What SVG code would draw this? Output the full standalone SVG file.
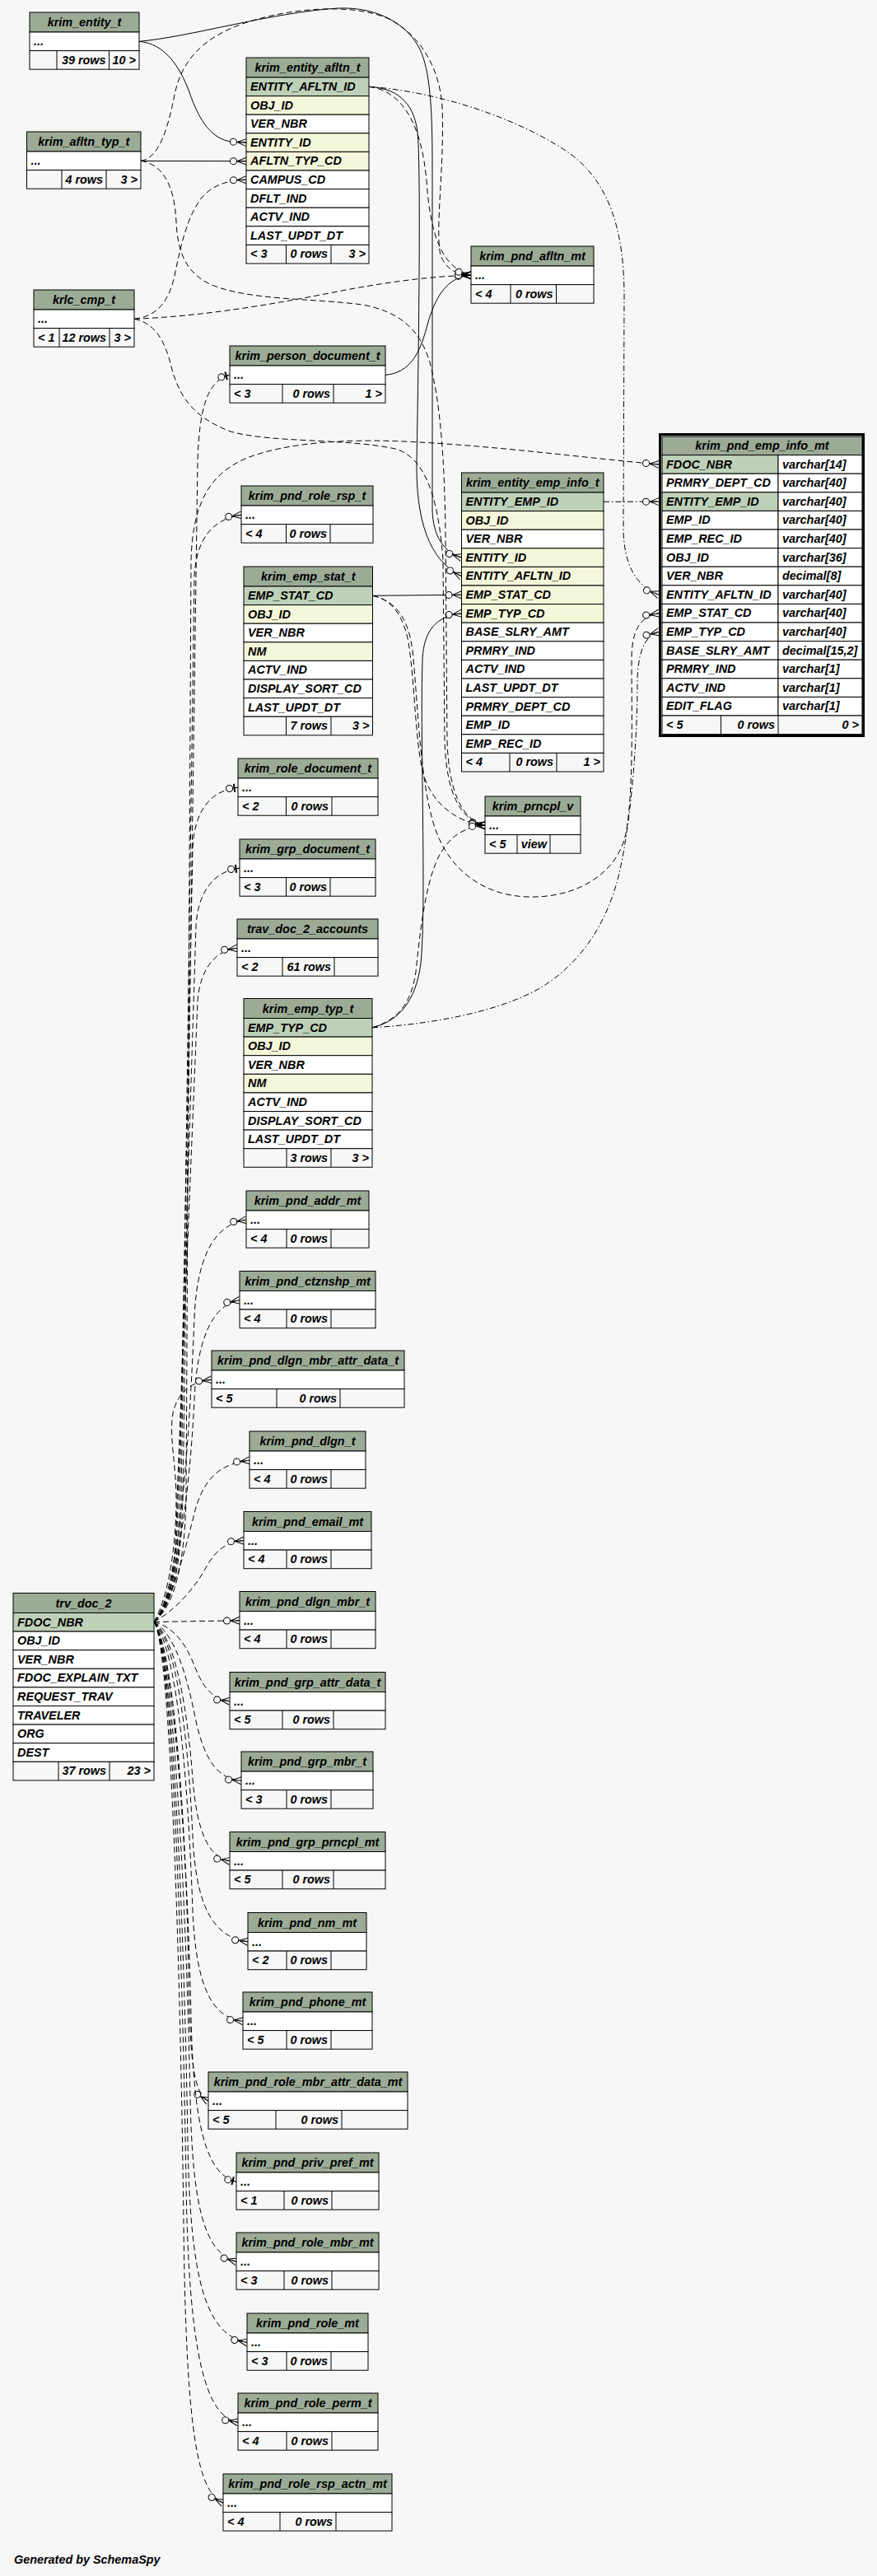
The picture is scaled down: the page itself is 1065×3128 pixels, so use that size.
<svg xmlns="http://www.w3.org/2000/svg" width="1065" height="3128" viewBox="0 0 1065 3128">
<style>
text{font-family:"Liberation Sans",Arial,sans-serif;font-weight:bold;font-style:italic;font-size:14.4px;fill:#000}
.m{text-anchor:middle}.e{text-anchor:end}
.h{fill:#9bab96;stroke:#000}.k{fill:#bed1b8;stroke:#000}.i{fill:#f4f7da;stroke:#000}.w{fill:#fff;stroke:#000}.f{fill:#f7f7f7;stroke:#000}
.v{stroke:#000;fill:none}
.s,.d,.dd{fill:none;stroke:#000;stroke-width:1}
.d{stroke-dasharray:7,4}.dd{stroke-dasharray:7,3,1.5,3}
.cf{marker-end:url(#cf)}.ot{marker-end:url(#ot)}
</style>
<defs>
<marker id="cf" markerUnits="userSpaceOnUse" orient="auto" markerWidth="40" markerHeight="20" viewBox="-25 -10 40 20" refX="0" refY="0" overflow="visible">
<g stroke="#000" stroke-width="1" stroke-dasharray="none"><path d="M-11,0L0,-4.5M-11,0L0,0M-11,0L0,4.5" fill="none"/><circle cx="-15.5" cy="0" r="4" fill="#f7f7f7"/></g>
</marker>
<marker id="ot" markerUnits="userSpaceOnUse" orient="auto" markerWidth="40" markerHeight="20" viewBox="-25 -10 40 20" refX="0" refY="0" overflow="visible">
<g stroke="#000" stroke-dasharray="none"><path d="M-6.5,0H0" stroke-width="1"/><circle cx="-10.5" cy="0" r="4" fill="#f7f7f7" stroke-width="1"/><path d="M-4.5,-5V5" stroke-width="2"/></g>
</marker>
</defs>
<rect x="0" y="0" width="1065" height="3128" fill="#f7f7f7"/>

<g id="connectors">
<path class="s cf" d="M169,50.3 C200,53 218,80 230,112 C243,150 258,168 280,172 L299,173.1"/>
<path class="s cf" d="M169,50.3 C230,45 330,15 410,10 C460,8 495,30 510,60 C522,85 525,130 525,200 L525,620 C526,650 538,670 560.5,677.1"/>
<path class="s cf" d="M171,195.5 L299,195.7"/>
<path class="s cf" d="M448,105.3 C480,107 502,122 507,160 C511,200 509,400 506,560 C505,630 520,680 560.5,699.7"/>
<path class="s cf" d="M468,455.3 C498,453 510,428 518,398 C528,360 543,336 572,334.3"/>
<path class="s cf" d="M452.5,723.3 L560.5,722.3"/>
<path class="s cf" d="M452,1247.8 C485,1240 505,1215 511,1170 C518,1100 510,900 513,800 C515,765 530,748 560.5,744.9"/>
<path class="d cf" d="M171,195.3 C195,192 205,150 212,115 C220,75 245,45 300,27 C360,8 430,5 470,22 C508,40 534,80 537,130 C540,200 528,280 535,310 C542,328 555,333 572,334.3"/>
<path class="d cf" d="M171,195.3 C198,200 212,225 214,270 C216,310 228,332 255,345 C300,365 380,362 440,370 C485,378 510,400 522,440 C535,490 540,560 541,650 L543,900 C545,960 560,995 589,1002.3"/>
<path class="d cf" d="M163,387.3 C192,384 205,365 212,335 C220,295 228,262 245,240 C258,225 275,219 299,218.3"/>
<path class="d cf" d="M163,387.3 C250,384 340,368 420,352 C480,341 530,335 572,334.3"/>
<path class="d cf" d="M163,387.3 C187,392 200,412 208,445 C218,485 238,508 280,524 C330,538 420,532 480,545 C515,555 532,600 538,680 L540,900 C542,965 560,996 589,1002.3"/>
<path class="d cf" d="M452.5,723.3 C482,730 496,752 501,790 C508,860 510,950 528,1005 C545,1055 585,1087 640,1089 C700,1091 745,1062 758,1020 C770,980 767,860 767,800 C767,765 778,748 800,744.7"/>
<path class="d cf" d="M452.5,723.3 C476,728 490,748 496,780 C504,830 504,900 514,940 C525,975 552,998 589,1002.3"/>
<path class="dd cf" d="M452,1247.8 C520,1244 600,1230 652,1202 C705,1172 738,1120 752,1060 C766,1000 774,900 774,830 C774,795 782,772 800,767.3"/>
<path class="d cf" d="M452,1247.8 C486,1238 500,1215 505,1180 C512,1110 520,1062 535,1036 C548,1014 565,1004 589,1002.3"/>
<path class="d cf" d="M448,105.3 C488,110 512,150 518,220 C523,290 538,325 572,334.3"/>
<path class="dd cf" d="M448,105.3 C520,110 620,138 690,185 C740,220 758,280 758,360 L757,640 C757,685 772,712 800,722.1"/>
<path class="dd cf" d="M733,609.3 L800,609.1"/>
<path class="d cf" d="M187,1969.5 C212,1950 224,1900 226,1820 L232,680 C234,610 255,575 300,556 C350,537 420,533 490,536 C600,541 710,556 800,563.9"/>
<path class="d ot" d="M187,1969.5 C210,1950 220,1900 222,1820 L240,560 C242,495 252,462 279,455.3"/>
<path class="d cf" d="M187,1969.5 C209,1950 219,1900 220,1820 L236,700 C238,655 258,630 293,625.3"/>
<path class="d ot" d="M187,1969.5 C208,1950 217,1900 218,1820 L234,1030 C236,985 255,960 289,956.3"/>
<path class="d ot" d="M187,1969.5 C207,1950 215,1900 216,1820 L238,1125 C240,1085 258,1058 291,1054.3"/>
<path class="d cf" d="M187,1969.5 C207,1950 214,1900 215,1820 L240,1215 C243,1180 258,1155 288,1151.3"/>
<path class="d cf" d="M187,1969.5 C213,1940 228,1800 236,1600 C239,1530 258,1487 299,1481.3"/>
<path class="d cf" d="M187,1969.5 C213,1940 230,1820 236,1700 C239,1630 256,1585 291,1578.8"/>
<path class="d cf" d="M187,1969.5 C204,1940 214,1880 214,1820 C214,1780 205,1742 210,1716 C216,1690 232,1678 257,1675.3"/>
<path class="d cf" d="M187,1969.5 C210,1945 225,1880 238,1830 C250,1792 270,1777 303,1773.3"/>
<path class="d cf" d="M187,1969.5 C214,1955 238,1926 251,1902 C262,1882 276,1872 296,1870.8"/>
<path class="d cf" d="M187,1969.5 L291,1967.8"/>
<path class="d cf" d="M187,1969.5 C210,1975 225,1995 235,2020 C245,2046 256,2063 279,2065.8"/>
<path class="d cf" d="M187,1969.5 C214,1985 228,2040 238,2090 C249,2140 266,2160 293,2162.3"/>
<path class="d cf" d="M187,1969.5 C214,1990 228,2080 234,2160 C239,2222 252,2255 279,2259.8"/>
<path class="d cf" d="M187,1969.5 C214,1995 228,2100 234,2230 C238,2310 256,2352 301,2357.8"/>
<path class="d cf" d="M187,1969.5 C214,2000 228,2150 234,2320 C238,2410 256,2450 295,2454.3"/>
<path class="d cf" d="M187,1969.5 C210,2000 226,2200 229,2400 C231,2500 234,2540 253,2551.3"/>
<path class="d ot" d="M187,1969.5 C210,2000 228,2250 232,2450 C235,2580 250,2640 287,2649.3"/>
<path class="d cf" d="M187,1969.5 C210,2000 226,2300 231,2550 C234,2680 248,2735 287,2746.3"/>
<path class="d cf" d="M187,1969.5 C210,2000 224,2350 228,2600 C231,2770 250,2835 300,2844.3"/>
<path class="d cf" d="M187,1969.5 C210,2000 222,2400 226,2650 C229,2860 250,2935 289,2941.3"/>
<path class="d cf" d="M187,1969.5 C209,2000 220,2450 223,2700 C226,2970 242,3025 271,3039.3"/>
</g>

<g id="krim_entity_t">
<rect class="h" x="36" y="15" width="133" height="24"/><rect class="w" x="36" y="39" width="133" height="22.6"/><rect class="f" x="36" y="61.6" width="133" height="22.6"/>
<path class="v" d="M69,61.6V84.2M132.5,61.6V84.2"/>
<text class="m" x="102.5" y="32">krim_entity_t</text><text x="41" y="55">...</text>
<text class="e" x="128.5" y="77.6">39 rows</text><text class="e" x="165" y="77.6">10 &gt;</text>
</g>

<g id="krim_entity_afltn_t">
<rect class="h" x="299" y="70" width="149" height="24"/>
<rect class="k" x="299" y="94" width="149" height="22.6"/>
<rect class="i" x="299" y="116.6" width="149" height="22.6"/>
<rect class="w" x="299" y="139.2" width="149" height="22.6"/>
<rect class="i" x="299" y="161.8" width="149" height="22.6"/>
<rect class="i" x="299" y="184.4" width="149" height="22.6"/>
<rect class="w" x="299" y="207" width="149" height="22.6"/>
<rect class="w" x="299" y="229.6" width="149" height="22.6"/>
<rect class="w" x="299" y="252.2" width="149" height="22.6"/>
<rect class="w" x="299" y="274.8" width="149" height="22.6"/>
<rect class="f" x="299" y="297.4" width="149" height="22.6"/>
<path class="v" d="M347.5,297.4V320M402,297.4V320"/>
<text class="m" x="373.5" y="87">krim_entity_afltn_t</text>
<text x="304" y="110">ENTITY_AFLTN_ID</text><text x="304" y="132.6">OBJ_ID</text><text x="304" y="155.2">VER_NBR</text>
<text x="304" y="177.8">ENTITY_ID</text><text x="304" y="200.4">AFLTN_TYP_CD</text><text x="304" y="223">CAMPUS_CD</text>
<text x="304" y="245.6">DFLT_IND</text><text x="304" y="268.2">ACTV_IND</text><text x="304" y="290.8">LAST_UPDT_DT</text>
<text x="304" y="313.4">&lt; 3</text><text class="e" x="398" y="313.4">0 rows</text><text class="e" x="444" y="313.4">3 &gt;</text>
</g>

<g id="krim_afltn_typ_t">
<rect class="h" x="32.5" y="160" width="138.5" height="24"/><rect class="w" x="32.5" y="184" width="138.5" height="22.6"/><rect class="f" x="32.5" y="206.6" width="138.5" height="22.6"/>
<path class="v" d="M75,206.6V229.2M129,206.6V229.2"/>
<text class="m" x="101.75" y="177">krim_afltn_typ_t</text><text x="37.5" y="200">...</text>
<text class="e" x="125" y="222.6">4 rows</text><text class="e" x="167" y="222.6">3 &gt;</text>
</g>

<g id="krlc_cmp_t">
<rect class="h" x="41" y="352" width="122" height="24"/><rect class="w" x="41" y="376" width="122" height="22.6"/><rect class="f" x="41" y="398.6" width="122" height="22.6"/>
<path class="v" d="M72,398.6V421.2M133,398.6V421.2"/>
<text class="m" x="102" y="369">krlc_cmp_t</text><text x="46" y="392">...</text>
<text x="46" y="414.6">&lt; 1</text><text class="e" x="129" y="414.6">12 rows</text><text class="e" x="159" y="414.6">3 &gt;</text>
</g>

<g id="krim_person_document_t">
<rect class="h" x="279" y="420" width="189" height="24"/><rect class="w" x="279" y="444" width="189" height="22.6"/><rect class="f" x="279" y="466.6" width="189" height="22.6"/>
<path class="v" d="M343,466.6V489.2M405,466.6V489.2"/>
<text class="m" x="373.5" y="437">krim_person_document_t</text><text x="284" y="460">...</text>
<text x="284" y="482.6">&lt; 3</text><text class="e" x="401" y="482.6">0 rows</text><text class="e" x="464" y="482.6">1 &gt;</text>
</g>

<g id="krim_pnd_role_rsp_t">
<rect class="h" x="293" y="590" width="160" height="24"/><rect class="w" x="293" y="614" width="160" height="22.6"/><rect class="f" x="293" y="636.6" width="160" height="22.6"/>
<path class="v" d="M347.5,636.6V659.2M401,636.6V659.2"/>
<text class="m" x="373" y="607">krim_pnd_role_rsp_t</text><text x="298" y="630">...</text>
<text x="298" y="652.6">&lt; 4</text><text class="e" x="397" y="652.6">0 rows</text>
</g>

<g id="krim_emp_stat_t">
<rect class="h" x="296" y="688" width="156.5" height="24"/>
<rect class="k" x="296" y="712" width="156.5" height="22.6"/>
<rect class="i" x="296" y="734.6" width="156.5" height="22.6"/>
<rect class="w" x="296" y="757.2" width="156.5" height="22.6"/>
<rect class="i" x="296" y="779.8" width="156.5" height="22.6"/>
<rect class="w" x="296" y="802.4" width="156.5" height="22.6"/>
<rect class="w" x="296" y="825" width="156.5" height="22.6"/>
<rect class="w" x="296" y="847.6" width="156.5" height="22.6"/>
<rect class="f" x="296" y="870.2" width="156.5" height="22.6"/>
<path class="v" d="M347.5,870.2V892.8M402,870.2V892.8"/>
<text class="m" x="374.25" y="705">krim_emp_stat_t</text>
<text x="301" y="728">EMP_STAT_CD</text><text x="301" y="750.6">OBJ_ID</text><text x="301" y="773.2">VER_NBR</text><text x="301" y="795.8">NM</text>
<text x="301" y="818.4">ACTV_IND</text><text x="301" y="841">DISPLAY_SORT_CD</text><text x="301" y="863.6">LAST_UPDT_DT</text>
<text class="e" x="398" y="886.2">7 rows</text><text class="e" x="448.5" y="886.2">3 &gt;</text>
</g>

<g id="krim_role_document_t">
<rect class="h" x="289" y="921" width="170" height="24"/><rect class="w" x="289" y="945" width="170" height="22.6"/><rect class="f" x="289" y="967.6" width="170" height="22.6"/>
<path class="v" d="M347.5,967.6V990.2M403,967.6V990.2"/>
<text class="m" x="374" y="938">krim_role_document_t</text><text x="294" y="961">...</text>
<text x="294" y="983.6">&lt; 2</text><text class="e" x="399" y="983.6">0 rows</text>
</g>

<g id="krim_grp_document_t">
<rect class="h" x="291" y="1019" width="165" height="24"/><rect class="w" x="291" y="1043" width="165" height="22.6"/><rect class="f" x="291" y="1065.6" width="165" height="22.6"/>
<path class="v" d="M347.5,1065.6V1088.2M401,1065.6V1088.2"/>
<text class="m" x="373.5" y="1036">krim_grp_document_t</text><text x="296" y="1059">...</text>
<text x="296" y="1081.6">&lt; 3</text><text class="e" x="397" y="1081.6">0 rows</text>
</g>

<g id="trav_doc_2_accounts">
<rect class="h" x="288" y="1116" width="171" height="24"/><rect class="w" x="288" y="1140" width="171" height="22.6"/><rect class="f" x="288" y="1162.6" width="171" height="22.6"/>
<path class="v" d="M343,1162.6V1185.2M406,1162.6V1185.2"/>
<text class="m" x="373.5" y="1133">trav_doc_2_accounts</text><text x="293" y="1156">...</text>
<text x="293" y="1178.6">&lt; 2</text><text class="e" x="402" y="1178.6">61 rows</text>
</g>

<g id="krim_emp_typ_t">
<rect class="h" x="296" y="1212.5" width="156" height="24"/>
<rect class="k" x="296" y="1236.5" width="156" height="22.6"/>
<rect class="i" x="296" y="1259.1" width="156" height="22.6"/>
<rect class="w" x="296" y="1281.7" width="156" height="22.6"/>
<rect class="i" x="296" y="1304.3" width="156" height="22.6"/>
<rect class="w" x="296" y="1326.9" width="156" height="22.6"/>
<rect class="w" x="296" y="1349.5" width="156" height="22.6"/>
<rect class="w" x="296" y="1372.1" width="156" height="22.6"/>
<rect class="f" x="296" y="1394.7" width="156" height="22.6"/>
<path class="v" d="M348,1394.7V1417.3M402,1394.7V1417.3"/>
<text class="m" x="374" y="1229.5">krim_emp_typ_t</text>
<text x="301" y="1252.5">EMP_TYP_CD</text><text x="301" y="1275.1">OBJ_ID</text><text x="301" y="1297.7">VER_NBR</text><text x="301" y="1320.3">NM</text>
<text x="301" y="1342.9">ACTV_IND</text><text x="301" y="1365.5">DISPLAY_SORT_CD</text><text x="301" y="1388.1">LAST_UPDT_DT</text>
<text class="e" x="398" y="1410.7">3 rows</text><text class="e" x="448" y="1410.7">3 &gt;</text>
</g>

<g id="krim_pnd_addr_mt">
<rect class="h" x="299" y="1446" width="149" height="24"/><rect class="w" x="299" y="1470" width="149" height="22.6"/><rect class="f" x="299" y="1492.6" width="149" height="22.6"/>
<path class="v" d="M348,1492.6V1515.2M402,1492.6V1515.2"/>
<text class="m" x="373.5" y="1463">krim_pnd_addr_mt</text><text x="304" y="1486">...</text>
<text x="304" y="1508.6">&lt; 4</text><text class="e" x="398" y="1508.6">0 rows</text>
</g>

<g id="krim_pnd_ctznshp_mt">
<rect class="h" x="291" y="1543.5" width="165" height="24"/><rect class="w" x="291" y="1567.5" width="165" height="22.6"/><rect class="f" x="291" y="1590.1" width="165" height="22.6"/>
<path class="v" d="M348,1590.1V1612.7M402,1590.1V1612.7"/>
<text class="m" x="373.5" y="1560.5">krim_pnd_ctznshp_mt</text><text x="296" y="1583.5">...</text>
<text x="296" y="1606.1">&lt; 4</text><text class="e" x="398" y="1606.1">0 rows</text>
</g>

<g id="krim_pnd_dlgn_mbr_attr_data_t">
<rect class="h" x="257" y="1640" width="234" height="24"/><rect class="w" x="257" y="1664" width="234" height="22.6"/><rect class="f" x="257" y="1686.6" width="234" height="22.6"/>
<path class="v" d="M336,1686.6V1709.2M413,1686.6V1709.2"/>
<text class="m" x="374" y="1657">krim_pnd_dlgn_mbr_attr_data_t</text><text x="262" y="1680">...</text>
<text x="262" y="1702.6">&lt; 5</text><text class="e" x="409" y="1702.6">0 rows</text>
</g>

<g id="krim_pnd_dlgn_t">
<rect class="h" x="303" y="1738" width="141" height="24"/><rect class="w" x="303" y="1762" width="141" height="22.6"/><rect class="f" x="303" y="1784.6" width="141" height="22.6"/>
<path class="v" d="M348,1784.6V1807.2M402,1784.6V1807.2"/>
<text class="m" x="373.5" y="1755">krim_pnd_dlgn_t</text><text x="308" y="1778">...</text>
<text x="308" y="1800.6">&lt; 4</text><text class="e" x="398" y="1800.6">0 rows</text>
</g>

<g id="krim_pnd_email_mt">
<rect class="h" x="296" y="1835.5" width="155" height="24"/><rect class="w" x="296" y="1859.5" width="155" height="22.6"/><rect class="f" x="296" y="1882.1" width="155" height="22.6"/>
<path class="v" d="M348,1882.1V1904.7M402,1882.1V1904.7"/>
<text class="m" x="373.5" y="1852.5">krim_pnd_email_mt</text><text x="301" y="1875.5">...</text>
<text x="301" y="1898.1">&lt; 4</text><text class="e" x="398" y="1898.1">0 rows</text>
</g>

<g id="krim_pnd_dlgn_mbr_t">
<rect class="h" x="291" y="1932.5" width="165" height="24"/><rect class="w" x="291" y="1956.5" width="165" height="22.6"/><rect class="f" x="291" y="1979.1" width="165" height="22.6"/>
<path class="v" d="M348,1979.1V2001.7M402,1979.1V2001.7"/>
<text class="m" x="373.5" y="1949.5">krim_pnd_dlgn_mbr_t</text><text x="296" y="1972.5">...</text>
<text x="296" y="1995.1">&lt; 4</text><text class="e" x="398" y="1995.1">0 rows</text>
</g>

<g id="krim_pnd_grp_attr_data_t">
<rect class="h" x="279" y="2030.5" width="189" height="24"/><rect class="w" x="279" y="2054.5" width="189" height="22.6"/><rect class="f" x="279" y="2077.1" width="189" height="22.6"/>
<path class="v" d="M343,2077.1V2099.7M405,2077.1V2099.7"/>
<text class="m" x="373.5" y="2047.5">krim_pnd_grp_attr_data_t</text><text x="284" y="2070.5">...</text>
<text x="284" y="2093.1">&lt; 5</text><text class="e" x="401" y="2093.1">0 rows</text>
</g>

<g id="krim_pnd_grp_mbr_t">
<rect class="h" x="293" y="2127" width="160" height="24"/><rect class="w" x="293" y="2151" width="160" height="22.6"/><rect class="f" x="293" y="2173.6" width="160" height="22.6"/>
<path class="v" d="M348,2173.6V2196.2M402,2173.6V2196.2"/>
<text class="m" x="373" y="2144">krim_pnd_grp_mbr_t</text><text x="298" y="2167">...</text>
<text x="298" y="2189.6">&lt; 3</text><text class="e" x="398" y="2189.6">0 rows</text>
</g>

<g id="krim_pnd_grp_prncpl_mt">
<rect class="h" x="279" y="2224.5" width="189" height="24"/><rect class="w" x="279" y="2248.5" width="189" height="22.6"/><rect class="f" x="279" y="2271.1" width="189" height="22.6"/>
<path class="v" d="M343,2271.1V2293.7M405,2271.1V2293.7"/>
<text class="m" x="373.5" y="2241.5">krim_pnd_grp_prncpl_mt</text><text x="284" y="2264.5">...</text>
<text x="284" y="2287.1">&lt; 5</text><text class="e" x="401" y="2287.1">0 rows</text>
</g>

<g id="krim_pnd_nm_mt">
<rect class="h" x="301" y="2322.5" width="144" height="24"/><rect class="w" x="301" y="2346.5" width="144" height="22.6"/><rect class="f" x="301" y="2369.1" width="144" height="22.6"/>
<path class="v" d="M348,2369.1V2391.7M402,2369.1V2391.7"/>
<text class="m" x="373" y="2339.5">krim_pnd_nm_mt</text><text x="306" y="2362.5">...</text>
<text x="306" y="2385.1">&lt; 2</text><text class="e" x="398" y="2385.1">0 rows</text>
</g>

<g id="krim_pnd_phone_mt">
<rect class="h" x="295" y="2419" width="157" height="24"/><rect class="w" x="295" y="2443" width="157" height="22.6"/><rect class="f" x="295" y="2465.6" width="157" height="22.6"/>
<path class="v" d="M348,2465.6V2488.2M402,2465.6V2488.2"/>
<text class="m" x="373.5" y="2436">krim_pnd_phone_mt</text><text x="300" y="2459">...</text>
<text x="300" y="2481.6">&lt; 5</text><text class="e" x="398" y="2481.6">0 rows</text>
</g>

<g id="krim_pnd_role_mbr_attr_data_mt">
<rect class="h" x="253" y="2516" width="242" height="24"/><rect class="w" x="253" y="2540" width="242" height="22.6"/><rect class="f" x="253" y="2562.6" width="242" height="22.6"/>
<path class="v" d="M335,2562.6V2585.2M415,2562.6V2585.2"/>
<text class="m" x="374" y="2533">krim_pnd_role_mbr_attr_data_mt</text><text x="258" y="2556">...</text>
<text x="258" y="2578.6">&lt; 5</text><text class="e" x="411" y="2578.6">0 rows</text>
</g>

<g id="krim_pnd_priv_pref_mt">
<rect class="h" x="287" y="2614" width="173" height="24"/><rect class="w" x="287" y="2638" width="173" height="22.6"/><rect class="f" x="287" y="2660.6" width="173" height="22.6"/>
<path class="v" d="M345,2660.6V2683.2M403,2660.6V2683.2"/>
<text class="m" x="373.5" y="2631">krim_pnd_priv_pref_mt</text><text x="292" y="2654">...</text>
<text x="292" y="2676.6">&lt; 1</text><text class="e" x="399" y="2676.6">0 rows</text>
</g>

<g id="krim_pnd_role_mbr_mt">
<rect class="h" x="287" y="2711" width="173" height="24"/><rect class="w" x="287" y="2735" width="173" height="22.6"/><rect class="f" x="287" y="2757.6" width="173" height="22.6"/>
<path class="v" d="M345,2757.6V2780.2M403,2757.6V2780.2"/>
<text class="m" x="373.5" y="2728">krim_pnd_role_mbr_mt</text><text x="292" y="2751">...</text>
<text x="292" y="2773.6">&lt; 3</text><text class="e" x="399" y="2773.6">0 rows</text>
</g>

<g id="krim_pnd_role_mt">
<rect class="h" x="300" y="2809" width="147" height="24"/><rect class="w" x="300" y="2833" width="147" height="22.6"/><rect class="f" x="300" y="2855.6" width="147" height="22.6"/>
<path class="v" d="M348,2855.6V2878.2M402,2855.6V2878.2"/>
<text class="m" x="373.5" y="2826">krim_pnd_role_mt</text><text x="305" y="2849">...</text>
<text x="305" y="2871.6">&lt; 3</text><text class="e" x="398" y="2871.6">0 rows</text>
</g>

<g id="krim_pnd_role_perm_t">
<rect class="h" x="289" y="2906" width="170" height="24"/><rect class="w" x="289" y="2930" width="170" height="22.6"/><rect class="f" x="289" y="2952.6" width="170" height="22.6"/>
<path class="v" d="M348,2952.6V2975.2M403,2952.6V2975.2"/>
<text class="m" x="374" y="2923">krim_pnd_role_perm_t</text><text x="294" y="2946">...</text>
<text x="294" y="2968.6">&lt; 4</text><text class="e" x="399" y="2968.6">0 rows</text>
</g>

<g id="krim_pnd_role_rsp_actn_mt">
<rect class="h" x="271" y="3004" width="205" height="24"/><rect class="w" x="271" y="3028" width="205" height="22.6"/><rect class="f" x="271" y="3050.6" width="205" height="22.6"/>
<path class="v" d="M340,3050.6V3073.2M408,3050.6V3073.2"/>
<text class="m" x="373.5" y="3021">krim_pnd_role_rsp_actn_mt</text><text x="276" y="3044">...</text>
<text x="276" y="3066.6">&lt; 4</text><text class="e" x="404" y="3066.6">0 rows</text>
</g>

<g id="trv_doc_2">
<rect class="h" x="16" y="1934.5" width="171" height="24"/>
<rect class="k" x="16" y="1958.5" width="171" height="22.6"/>
<rect class="w" x="16" y="1981.1" width="171" height="22.6"/>
<rect class="w" x="16" y="2003.7" width="171" height="22.6"/>
<rect class="w" x="16" y="2026.3" width="171" height="22.6"/>
<rect class="w" x="16" y="2048.9" width="171" height="22.6"/>
<rect class="w" x="16" y="2071.5" width="171" height="22.6"/>
<rect class="w" x="16" y="2094.1" width="171" height="22.6"/>
<rect class="w" x="16" y="2116.7" width="171" height="22.6"/>
<rect class="f" x="16" y="2139.3" width="171" height="22.6"/>
<path class="v" d="M71,2139.3V2161.9M133,2139.3V2161.9"/>
<text class="m" x="101.5" y="1951.5">trv_doc_2</text>
<text x="21" y="1974.5">FDOC_NBR</text><text x="21" y="1997.1">OBJ_ID</text><text x="21" y="2019.7">VER_NBR</text><text x="21" y="2042.3">FDOC_EXPLAIN_TXT</text>
<text x="21" y="2064.9">REQUEST_TRAV</text><text x="21" y="2087.5">TRAVELER</text><text x="21" y="2110.1">ORG</text><text x="21" y="2132.7">DEST</text>
<text class="e" x="129" y="2155.3">37 rows</text><text class="e" x="183" y="2155.3">23 &gt;</text>
</g>

<g id="krim_pnd_afltn_mt">
<rect class="h" x="572" y="299" width="149" height="24"/><rect class="w" x="572" y="323" width="149" height="22.6"/><rect class="f" x="572" y="345.6" width="149" height="22.6"/>
<path class="v" d="M620,345.6V368.2M675.5,345.6V368.2"/>
<text class="m" x="646.5" y="316">krim_pnd_afltn_mt</text><text x="577" y="339">...</text>
<text x="577" y="361.6">&lt; 4</text><text class="e" x="671.5" y="361.6">0 rows</text>
</g>

<g id="krim_entity_emp_info_t">
<rect class="h" x="560.5" y="574" width="172.5" height="24"/>
<rect class="k" x="560.5" y="598" width="172.5" height="22.6"/>
<rect class="i" x="560.5" y="620.6" width="172.5" height="22.6"/>
<rect class="w" x="560.5" y="643.2" width="172.5" height="22.6"/>
<rect class="i" x="560.5" y="665.8" width="172.5" height="22.6"/>
<rect class="i" x="560.5" y="688.4" width="172.5" height="22.6"/>
<rect class="i" x="560.5" y="711" width="172.5" height="22.6"/>
<rect class="i" x="560.5" y="733.6" width="172.5" height="22.6"/>
<rect class="w" x="560.5" y="756.2" width="172.5" height="22.6"/>
<rect class="w" x="560.5" y="778.8" width="172.5" height="22.6"/>
<rect class="w" x="560.5" y="801.4" width="172.5" height="22.6"/>
<rect class="w" x="560.5" y="824" width="172.5" height="22.6"/>
<rect class="w" x="560.5" y="846.6" width="172.5" height="22.6"/>
<rect class="w" x="560.5" y="869.2" width="172.5" height="22.6"/>
<rect class="w" x="560.5" y="891.8" width="172.5" height="22.6"/>
<rect class="f" x="560.5" y="914.4" width="172.5" height="22.6"/>
<path class="v" d="M619,914.4V937M676,914.4V937"/>
<text class="m" x="646.75" y="591">krim_entity_emp_info_t</text>
<text x="565.5" y="614">ENTITY_EMP_ID</text><text x="565.5" y="636.6">OBJ_ID</text><text x="565.5" y="659.2">VER_NBR</text>
<text x="565.5" y="681.8">ENTITY_ID</text><text x="565.5" y="704.4">ENTITY_AFLTN_ID</text><text x="565.5" y="727">EMP_STAT_CD</text>
<text x="565.5" y="749.6">EMP_TYP_CD</text><text x="565.5" y="772.2">BASE_SLRY_AMT</text><text x="565.5" y="794.8">PRMRY_IND</text>
<text x="565.5" y="817.4">ACTV_IND</text><text x="565.5" y="840">LAST_UPDT_DT</text><text x="565.5" y="862.6">PRMRY_DEPT_CD</text>
<text x="565.5" y="885.2">EMP_ID</text><text x="565.5" y="907.8">EMP_REC_ID</text>
<text x="565.5" y="930.4">&lt; 4</text><text class="e" x="672" y="930.4">0 rows</text><text class="e" x="729" y="930.4">1 &gt;</text>
</g>

<g id="krim_prncpl_v">
<rect class="h" x="589" y="967" width="116" height="24"/><rect class="w" x="589" y="991" width="116" height="22.6"/><rect class="f" x="589" y="1013.6" width="116" height="22.6"/>
<path class="v" d="M628,1013.6V1036.2M668,1013.6V1036.2"/>
<text class="m" x="647" y="984">krim_prncpl_v</text><text x="594" y="1007">...</text>
<text x="594" y="1029.6">&lt; 5</text><text class="e" x="664" y="1029.6">view</text>
</g>

<g id="krim_pnd_emp_info_mt">
<rect x="801.5" y="527.5" width="247" height="366" fill="none" stroke="#000" stroke-width="3"/>
<rect class="h" x="804" y="530" width="243" height="22.6"/>
<rect class="k" x="804" y="552.6" width="141" height="22.6"/><rect class="w" x="945" y="552.6" width="102" height="22.6"/>
<rect class="w" x="804" y="575.2" width="141" height="22.6"/><rect class="w" x="945" y="575.2" width="102" height="22.6"/>
<rect class="k" x="804" y="597.8" width="141" height="22.6"/><rect class="w" x="945" y="597.8" width="102" height="22.6"/>
<rect class="w" x="804" y="620.4" width="141" height="22.6"/><rect class="w" x="945" y="620.4" width="102" height="22.6"/>
<rect class="w" x="804" y="643" width="141" height="22.6"/><rect class="w" x="945" y="643" width="102" height="22.6"/>
<rect class="w" x="804" y="665.6" width="141" height="22.6"/><rect class="w" x="945" y="665.6" width="102" height="22.6"/>
<rect class="w" x="804" y="688.2" width="141" height="22.6"/><rect class="w" x="945" y="688.2" width="102" height="22.6"/>
<rect class="w" x="804" y="710.8" width="141" height="22.6"/><rect class="w" x="945" y="710.8" width="102" height="22.6"/>
<rect class="w" x="804" y="733.4" width="141" height="22.6"/><rect class="w" x="945" y="733.4" width="102" height="22.6"/>
<rect class="w" x="804" y="756" width="141" height="22.6"/><rect class="w" x="945" y="756" width="102" height="22.6"/>
<rect class="w" x="804" y="778.6" width="141" height="22.6"/><rect class="w" x="945" y="778.6" width="102" height="22.6"/>
<rect class="w" x="804" y="801.2" width="141" height="22.6"/><rect class="w" x="945" y="801.2" width="102" height="22.6"/>
<rect class="w" x="804" y="823.8" width="141" height="22.6"/><rect class="w" x="945" y="823.8" width="102" height="22.6"/>
<rect class="w" x="804" y="846.4" width="141" height="22.6"/><rect class="w" x="945" y="846.4" width="102" height="22.6"/>
<rect class="f" x="804" y="869" width="243" height="22.6"/>
<path class="v" d="M875.5,869V891.6M945,869V891.6"/>
<text class="m" x="925.5" y="546">krim_pnd_emp_info_mt</text>
<text x="809" y="568.6">FDOC_NBR</text><text x="950" y="568.6">varchar[14]</text>
<text x="809" y="591.2">PRMRY_DEPT_CD</text><text x="950" y="591.2">varchar[40]</text>
<text x="809" y="613.8">ENTITY_EMP_ID</text><text x="950" y="613.8">varchar[40]</text>
<text x="809" y="636.4">EMP_ID</text><text x="950" y="636.4">varchar[40]</text>
<text x="809" y="659">EMP_REC_ID</text><text x="950" y="659">varchar[40]</text>
<text x="809" y="681.6">OBJ_ID</text><text x="950" y="681.6">varchar[36]</text>
<text x="809" y="704.2">VER_NBR</text><text x="950" y="704.2">decimal[8]</text>
<text x="809" y="726.8">ENTITY_AFLTN_ID</text><text x="950" y="726.8">varchar[40]</text>
<text x="809" y="749.4">EMP_STAT_CD</text><text x="950" y="749.4">varchar[40]</text>
<text x="809" y="772">EMP_TYP_CD</text><text x="950" y="772">varchar[40]</text>
<text x="809" y="794.6">BASE_SLRY_AMT</text><text x="950" y="794.6">decimal[15,2]</text>
<text x="809" y="817.2">PRMRY_IND</text><text x="950" y="817.2">varchar[1]</text>
<text x="809" y="839.8">ACTV_IND</text><text x="950" y="839.8">varchar[1]</text>
<text x="809" y="862.4">EDIT_FLAG</text><text x="950" y="862.4">varchar[1]</text>
<text x="809" y="885">&lt; 5</text><text class="e" x="941" y="885">0 rows</text><text class="e" x="1043" y="885">0 &gt;</text>
</g>

<text x="17" y="3113">Generated by SchemaSpy</text>
</svg>
